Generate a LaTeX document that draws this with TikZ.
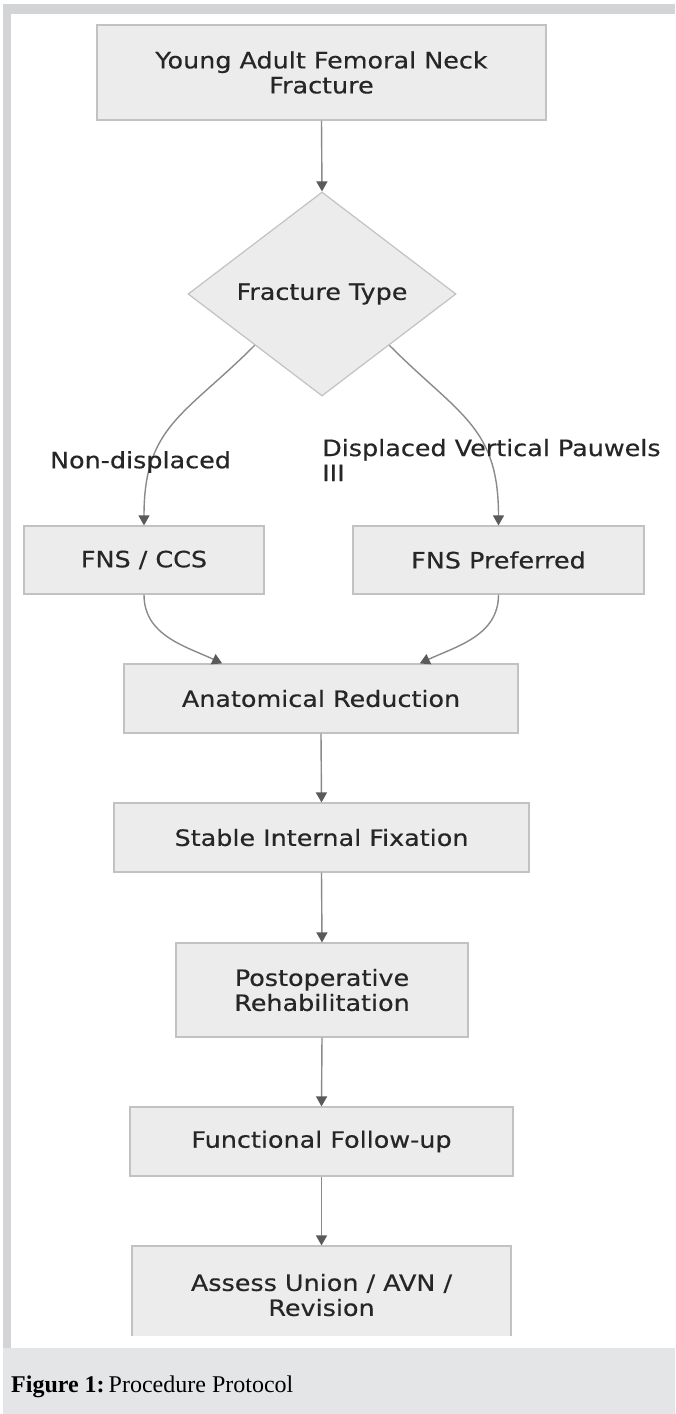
\documentclass[tikz,border=0pt]{standalone}
\usepackage{fontspec}
\setsansfont{DejaVu Sans}[FakeStretch=1.13, FakeBold=0.4]
\setmainfont{Liberation Serif}
\usepackage{tikz}
\usetikzlibrary{shapes.geometric, arrows.meta, positioning, calc}
\definecolor{boxFill}{HTML}{ECECEC}
\definecolor{boxBorder}{HTML}{C2C2C2}
\definecolor{lineGray}{HTML}{8A8A8A}
\definecolor{tipGray}{HTML}{5A5A5A}
\definecolor{frameGray}{HTML}{D2D4D5}
\definecolor{captionGray}{HTML}{E4E5E6}
\definecolor{textGray}{HTML}{262626}

\begin{document}
\begin{tikzpicture}[x=1pt, y=1pt,
        font=\sffamily\fontsize{22.5}{25}\selectfont, text=textGray,
        box/.style={draw=boxBorder, fill=boxFill, line width=1.2pt, align=center, inner sep=0pt},
        decision/.style={diamond, draw=boxBorder, fill=boxFill, line width=1.2pt, inner sep=0pt,
            minimum width=268pt, minimum height=204pt},
        flow/.style={-{Triangle[length=10pt, width=11pt, color=tipGray]}, lineGray, line width=1.4pt},
        lbl/.style={align=left, inner sep=0pt}]
    % frame and caption
    \useasboundingbox (0,0) rectangle (675,-1414);
    \fill[captionGray] (3,-4) rectangle (675,-1414);
    \fill[frameGray] (3,-4) rectangle (675,-1348);
    \fill[white] (11,-14) rectangle (675,-1348);
    \node[anchor=base west, inner sep=0pt, font=\rmfamily\fontsize{24}{28}\selectfont, text=black] (cap)
        at (11,-1392) {\textbf{Figure 1:}\,Procedure Protocol};
    % nodes
    \node[box, minimum width=449pt, minimum height=95pt] (yafnf) at (321.5,-72.5) {Young Adult Femoral Neck\\Fracture};
    \node[decision] (type) at (322,-294) {Fracture Type};
    \node[box, minimum width=240pt, minimum height=68pt] (fnsccs) at (144,-560) {FNS / CCS};
    \node[box, minimum width=291pt, minimum height=68pt] (fnspref) at (498.5,-560) {FNS Preferred};
    \node[box, minimum width=394pt, minimum height=69pt] (anat) at (321,-698.5) {Anatomical Reduction};
    \node[box, minimum width=415pt, minimum height=69pt] (stable) at (321.5,-837.5) {Stable Internal Fixation};
    \node[box, minimum width=292pt, minimum height=94pt] (post) at (322,-990) {Postoperative\\Rehabilitation};
    \node[box, minimum width=383pt, minimum height=69pt] (func) at (321.5,-1141.5) {Functional Follow-up};
    \begin{scope}
        \clip (11,-14) rectangle (675,-1335);
        \node[box, minimum width=379pt, minimum height=98pt] (assess) at (321.5,-1295) {Assess Union / AVN /\\Revision};
    \end{scope}
    % connectors
    \draw[flow] (yafnf.south) -- (type.north);
    \draw[flow] (type.south west) to[out=-135, in=90, looseness=1.2] (fnsccs.north);
    \draw[flow] (type.south east) to[out=-45, in=90, looseness=1.2] (fnspref.north);
    \draw[flow] (fnsccs.south) to[out=-90, in=155] ($(anat.north)!0.5!(anat.north west)$);
    \draw[flow] (fnspref.south) to[out=-90, in=25] ($(anat.north)!0.5!(anat.north east)$);
    \foreach \a/\b in {anat/stable, stable/post, post/func, func/assess} \draw[flow] (\a.south) -- (\b.north);
    % edge labels
    \node[lbl] (nondisp) at (140.5,-462) {Non-displaced};
    \node[lbl, anchor=west] (disp) at (322,-460) {Displaced Vertical Pauwels\\III};
\end{tikzpicture}
\end{document}
